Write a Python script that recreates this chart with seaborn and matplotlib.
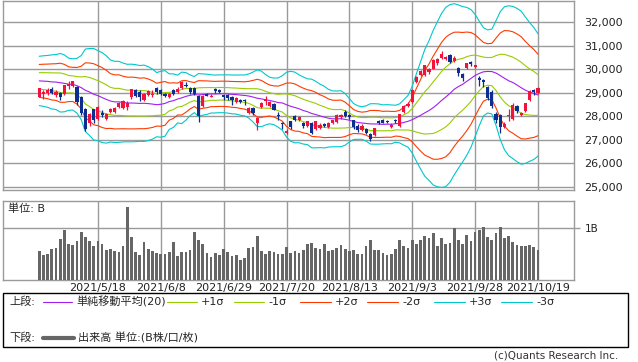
import matplotlib
matplotlib.use("Agg")
import matplotlib.pyplot as plt
import numpy as np
import pandas as pd
import seaborn as sns
from matplotlib.lines import Line2D
from matplotlib.patches import Rectangle
from matplotlib.ticker import FuncFormatter

# daily candles 2021/4/22 .. 2021/10/19 (120 sessions)
open_ = [28840, 28950, 29000, 29180, 28900, 29000, 28950, 29280, 29290, 29250,
         28800, 28320, 27700, 28300, 27900, 28150, 27900, 28200, 28200, 28400,
         28350, 28400, 28800, 29100, 29050, 28700, 28900, 28900, 29200, 29100,
         28950, 28800, 29100, 29050, 29200, 29350, 29200, 29200, 28880, 28450,
         28960, 28820, 29150, 29120, 28890, 28900, 28800, 28600, 28700, 28710,
         28150, 28350, 27700, 28400, 28650, 28450, 28540, 28050, 27700, 27300,
         27780, 28010, 27850, 27700, 27600, 27700, 27450, 27500, 27650, 27550,
         27700, 27750, 27950, 28200, 28050, 27830, 27600, 27400, 27450, 27250,
         27200, 27800, 27830, 27800, 27550, 27850, 27600, 28200, 28450, 28600,
         29450, 29750, 29750, 29900, 30020, 30250, 30500, 30430, 30600, 30350,
         30050, 29800, 30050, 30300, 30100, 29650, 29550, 29250, 29050, 28100,
         28050, 27550, 28000, 27900, 28450, 28050, 28230, 28700, 29100, 29000]
high = [29220, 29100, 29200, 29230, 29100, 29030, 29340, 29490, 29520, 29290,
        28870, 28370, 28150, 28320, 28450, 28250, 28150, 28350, 28400, 28600,
        28700, 28650, 29180, 29150, 29100, 29000, 29120, 29100, 29250, 29150,
        29000, 29000, 29150, 29230, 29500, 29480, 29250, 29250, 28900, 28900,
        29000, 28950, 29200, 29150, 28900, 28950, 28850, 28800, 28750, 28750,
        28400, 28400, 27950, 28600, 28850, 28650, 28560, 28200, 27750, 27450,
        27800, 28050, 28000, 27750, 27800, 27750, 27800, 27700, 27700, 27750,
        27850, 28100, 28100, 28250, 28100, 27850, 27650, 27650, 27500, 27300,
        27520, 27850, 27900, 27850, 27700, 27900, 28100, 28500, 28600, 29150,
        29700, 29950, 30200, 30050, 30420, 30500, 30795, 30560, 30650, 30550,
        30100, 29850, 30250, 30350, 30200, 29700, 29600, 29300, 29100, 28200,
        28100, 27750, 28300, 28550, 28500, 28200, 28580, 29100, 29150, 29260]
low = [28800, 28750, 28900, 28940, 28800, 28700, 28900, 29170, 29250, 28500,
       28050, 27385, 27600, 27700, 27850, 27950, 27850, 28150, 28150, 28350,
       28300, 28250, 28750, 28800, 28650, 28650, 28880, 28800, 28950, 28900,
       28800, 28780, 28900, 29000, 29150, 29250, 28950, 28900, 27760, 28400,
       28850, 28800, 29000, 28980, 28700, 28700, 28500, 28550, 28550, 28500,
       28100, 28050, 27419, 28350, 28500, 28400, 28250, 27850, 27450, 27250,
       27450, 27800, 27800, 27500, 27550, 27250, 27400, 27450, 27550, 27500,
       27650, 27700, 27900, 27950, 27900, 27450, 27350, 27380, 27250, 26954,
       27150, 27650, 27700, 27700, 27500, 27700, 27550, 28150, 28400, 28550,
       29400, 29700, 29700, 29800, 30000, 30200, 30450, 30400, 30250, 30300,
       29700, 29500, 30000, 30150, 30050, 29300, 29250, 28700, 28350, 27700,
       27293, 27500, 27800, 27850, 28150, 28000, 28200, 28650, 28900, 28950]
close = [29188, 29020, 29126, 28991, 29053, 28812, 29331, 29357, 29518, 28608,
         28147, 27448, 28084, 27824, 28406, 28044, 28098, 28317, 28364, 28553,
         28642, 28549, 29149, 28860, 28814, 28946, 29058, 28941, 29019, 28963,
         28860, 28958, 28948, 29161, 29441, 29291, 29018, 28964, 28010, 28884,
         28874, 28875, 29066, 29048, 28812, 28791, 28707, 28783, 28598, 28643,
         28366, 28118, 27940, 28569, 28718, 28608, 28279, 28003, 27652, 27388,
         27548, 27833, 27970, 27581, 27782, 27283, 27781, 27641, 27584, 27728,
         27820, 28070, 28070, 28015, 27977, 27523, 27424, 27585, 27281, 27013,
         27494, 27732, 27724, 27742, 27641, 27789, 28089, 28451, 28543, 29128,
         29659, 29916, 30181, 30008, 30381, 30447, 30670, 30511, 30323, 30500,
         29839, 29639, 30248, 30240, 30183, 29544, 29452, 28771, 28444, 27822,
         27528, 27678, 28048, 28498, 28230, 28140, 28550, 29068, 29025, 29215]
# volume in billions of shares
volume_b = [0.55, 0.47, 0.49, 0.59, 0.61, 0.78, 0.95, 0.68, 0.66, 0.74,
            0.91, 0.82, 0.74, 0.65, 0.74, 0.68, 0.57, 0.59, 0.55, 0.53,
            0.65, 1.39, 0.82, 0.53, 0.47, 0.72, 0.59, 0.55, 0.51, 0.49,
            0.49, 0.53, 0.72, 0.46, 0.53, 0.53, 0.57, 0.91, 0.76, 0.68,
            0.51, 0.44, 0.51, 0.47, 0.59, 0.53, 0.46, 0.47, 0.38, 0.42,
            0.61, 0.63, 0.84, 0.55, 0.49, 0.55, 0.53, 0.49, 0.49, 0.63,
            0.51, 0.55, 0.51, 0.57, 0.68, 0.70, 0.61, 0.59, 0.68, 0.55,
            0.57, 0.61, 0.66, 0.59, 0.55, 0.57, 0.49, 0.49, 0.65, 0.76,
            0.57, 0.57, 0.51, 0.47, 0.49, 0.59, 0.76, 0.65, 0.61, 0.76,
            0.68, 0.76, 0.84, 0.80, 0.89, 0.65, 0.80, 0.68, 0.70, 0.99,
            0.76, 0.68, 0.85, 0.74, 0.91, 0.95, 1.01, 0.82, 0.76, 0.89,
            1.01, 0.80, 0.84, 0.72, 0.66, 0.65, 0.65, 0.66, 0.63, 0.57]
# closes of the 19 sessions before the first candle (feed the first band values)
prior_close = [29176, 29384, 29432, 29178, 29388, 29854, 30089, 29696, 29730, 29708,
               29768, 29538, 29751, 29620, 29642, 29683, 29685, 29100, 28508]

tick_pos = [14, 29, 44, 59, 74, 89, 104, 119]
tick_labels = ["2021/5/18", "2021/6/8", "2021/6/29", "2021/7/20",
               "2021/8/13", "2021/9/3", "2021/9/28", "2021/10/19"]
price_ticks = [25000, 26000, 27000, 28000, 29000, 30000, 31000, 32000]

UP, DOWN = "#f0143c", "#0c2f8f"
MID_C, S1_C, S2_C, S3_C = "#a020f0", "#99cc00", "#ff3a00", "#00c8cc"
GRID = "#9a9a9a"

sns.set_theme(style="white")
plt.rcParams["font.family"] = ["DejaVu Sans", "Noto Sans CJK JP"]

# Bollinger bands (20)
all_close = pd.Series(prior_close + close, dtype=float)
n0 = len(prior_close)
mid = all_close.rolling(20).mean().iloc[n0:].to_numpy()
sd = all_close.rolling(20).std().iloc[n0:].to_numpy()
idx = np.arange(len(close))
bands = {"-3": (mid - 3 * sd, S3_C), "-2": (mid - 2 * sd, S2_C), "-1": (mid - sd, S1_C),
         "+3": (mid + 3 * sd, S3_C), "+2": (mid + 2 * sd, S2_C), "+1": (mid + sd, S1_C),
         "mid": (mid, MID_C)}
band_df = pd.concat([pd.DataFrame({"idx": idx, "value": v, "band": k}) for k, (v, _) in bands.items()])
palette = {k: c for k, (_, c) in bands.items()}

W, H = 638, 362
fig = plt.figure(figsize=(W / 100, H / 100), dpi=100)


def px_axes(x0, y0, x1, y1):
    return fig.add_axes([x0 / W, 1 - y1 / H, (x1 - x0) / W, (y1 - y0) / H])


ax = px_axes(3, 0.5, 574, 190)
axv = px_axes(3, 201, 574, 280)
xlim = (-8.65, 127.6)

# price panel
sns.lineplot(data=band_df, x="idx", y="value", hue="band", palette=palette,
             linewidth=0.8, legend=False, estimator=None, ax=ax, zorder=2)
o, h, l, c = map(np.array, (open_, high, low, close))
colors = np.where(c >= o, UP, DOWN)
ax.vlines(idx, l, h, colors=colors, linewidth=0.9, zorder=3)
body = np.maximum(np.abs(c - o), 40)
ax.bar(idx, body, bottom=np.minimum(o, c), width=0.75, color=colors, linewidth=0, zorder=4)

ax.set_xlim(*xlim)
ax.set_ylim(24860, 32930)
ax.set_xticks(tick_pos)
ax.set_yticks(price_ticks)
ax.yaxis.tick_right()
ax.yaxis.set_major_formatter(FuncFormatter(lambda v, p: f"{int(v):,}"))
ax.tick_params(axis="x", length=0, labelbottom=False)
ax.tick_params(axis="y", length=0, pad=7.5, labelsize=8, labelcolor="#222222")
ax.grid(True, color=GRID, linewidth=1.0)
ax.set_xlabel("")
ax.set_ylabel("")

# volume panel
sns.barplot(x=idx, y=volume_b, native_scale=True, color="#666666", saturation=1,
            width=0.65, linewidth=0, errorbar=None, ax=axv, zorder=3)
axv.set_xlim(*xlim)
axv.set_ylim(0, 1.505)
axv.set_xticks(tick_pos)
axv.set_xticklabels(tick_labels)
axv.set_yticks([1])
axv.set_yticklabels(["1B"])
axv.yaxis.tick_right()
axv.tick_params(axis="x", length=0, pad=2, labelsize=8, labelcolor="#222222")
axv.tick_params(axis="y", length=4, width=1, color=GRID, pad=4, labelsize=7.5, labelcolor="#222222")
axv.grid(True, color=GRID, linewidth=1.0)
axv.text(5 / 571, 0.97, "単位: B", transform=axv.transAxes, fontsize=8, va="top", ha="left")

for a in (ax, axv):
    for s in a.spines.values():
        s.set_color(GRID)
        s.set_linewidth(1.0)
    a.set_axisbelow(True)

# legend area, in figure pixels
lg = fig.add_axes([0, 0, 1, 1])
lg.set_xlim(0, W)
lg.set_ylim(H, 0)
lg.axis("off")
lg.patch.set_visible(False)
lg.add_patch(Rectangle((3, 293), 625, 54, fill=False, edgecolor="black", linewidth=1.0))
ty1, ty2 = 302, 338
fs = 8
lg.text(9, ty1, "上段:", fontsize=fs, va="center")
items = [(43, 72, MID_C, "単純移動平均(20)"), (167, 197, S1_C, "+1σ"), (234, 264, S1_C, "-1σ"),
         (300, 331, S2_C, "+2σ"), (367, 398, S2_C, "-2σ"), (434, 465, S3_C, "+3σ"),
         (501, 532, S3_C, "-3σ")]
for x0, x1, col, lab in items:
    lg.add_line(Line2D([x0, x1], [ty1, ty1], color=col, linewidth=0.8))
    lg.text(x1 + 4, ty1, lab, fontsize=fs, va="center")
lg.text(9, ty2, "下段:", fontsize=fs, va="center")
lg.add_line(Line2D([43, 74], [ty2, ty2], color="#666666", linewidth=3))
lg.text(78, ty2, "出来高 単位:(B株/口/枚)", fontsize=fs, va="center")
lg.text(618, 356, "(c)Quants Research Inc.", fontsize=7.5, va="center", ha="right", color="#333333")

fig.savefig("out.png", dpi=100)
